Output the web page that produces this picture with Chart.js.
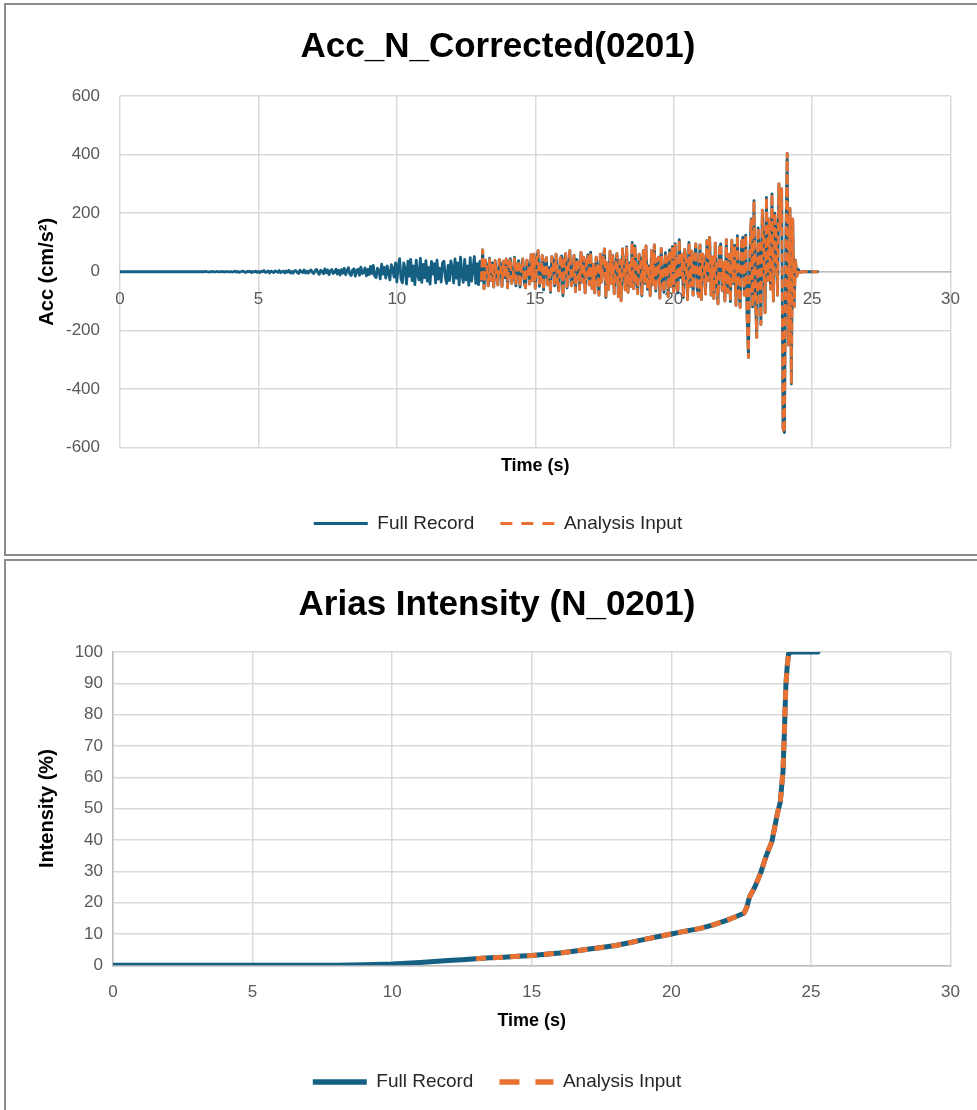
<!DOCTYPE html>
<html>
<head>
<meta charset="utf-8">
<title>Acc_N_Corrected (0201) / Arias Intensity (N_0201)</title>
<script src="https://cdn.jsdelivr.net/npm/chart.js@4.4.1/dist/chart.umd.min.js"></script>
<style>
  html, body { margin: 0; padding: 0; background: #fff; overflow: hidden; }
  body { width: 977px; height: 1110px; position: relative; }
  canvas { position: absolute; left: 0; }
  #accCanvas { top: 0; }
  #ariasCanvas { top: 560px; }
  .frame { position: absolute; left: 4px; width: 1000px; border: 2px solid #8c8c8c; box-sizing: border-box; pointer-events: none; }
  #frame1 { top: 3px; height: 553px; }
  #frame2 { top: 559px; height: 600px; }
</style>
</head>
<body>
<canvas id="accCanvas" width="977" height="556"></canvas>
<canvas id="ariasCanvas" width="977" height="550"></canvas>
<div class="frame" id="frame1"></div>
<div class="frame" id="frame2"></div>

<script>
// Acceleration record + Arias intensity, two stacked Excel-style charts

const seriesNames = ['Full Record', 'Analysis Input'];

// acceleration (cm/s2), one sample every 0.05 s starting at t = 0 (one row = 1 s)
const accStep = 0.05;
const accValues = [
  0, 0, 0, 0, 0, 0, 0, 0, 0, 0, 0, 0, 0, 0, 0, 0, 0, 0, 0, 0,
  0, 0, 0, 0, 0, 0, 0, 0, 0, 0, 0, 0, 0, 0, 0, 0, 0, 0, 0, 0,
  0, 0, 0, 0, 0, 0, 0, 0, 0, 0, 0, 0, 0, 0, 0, 0, 0, 0, 0, 0,
  0, 0, 1, 0, -1, 0, 0, 1, -1, 0, 1, 0, -1, 1, 0, 0, -1, 1, 0, -1,
  1, -1, 0, 2, -1, 1, -2, 0, 1, 2, -1, -2, 1, 0, 2, -3, 1, -1, 2, -2,
  1, -3, 2, 0, 4, -2, -1, 3, -4, 2, 0, -3, 3, 1, -2, 4, -3, 0, 2, -4,
  3, -2, 5, -4, 1, -5, 3, 4, -2, -6, 5, 0, -3, 6, -4, 2, -5, 3, 6, -3,
  -6, 4, 8, -3, -9, 5, 2, -7, 10, -4, 6, -10, 3, 8, -6, -2, 9, -8, 5, -11,
  7, -5, 12, -10, 3, 14, -8, -13, 6, 10, -15, 4, 9, -12, 16, -6, -3, 13, -14, 8,
  -10, 18, -6, 22, -15, -20, 12, 5, -24, 26, -8, 15, -22, 20, -4, -28, 24, 10, -18, 30,
  -35, 20, 45, -25, -38, 30, 10, -42, 36, -15, 42, -30, 20, -44, 40, -10, -28, 46, -36, 25,
  -20, 38, -32, 15, -42, 35, -8, 28, -38, 40, -25, 12, -35, 30, 36, -18, -40, 22, -30, 37,
  15, -38, 44, -22, 30, -45, 50, -10, -36, 42, -28, 20, -46, 48, -32, 10, 52, -40, 28, -44,
  35, -30, 75, -58, 40, 20, -48, 46, -30, 30, -52, 38, -12, -45, 42, 25, -50, 36, -20, 44,
  -55, 30, 45, -40, -15, 50, -48, 20, 38, -52, 10, 44, -35, -55, 40, 18, -42, 58, -30, 60,
  -56, 40, 72, -50, -20, 55, -62, 30, 48, -45, 15, -70, 52, 35, -48, 60, -30, -65, 45, 54,
  -82, 40, 62, -55, 20, 72, -48, -30, 56, -68, 42, 25, -60, 66, -35, 50, -72, 30, 58, -45,
  67, -58, 25, -72, 50, 10, -80, 60, -35, 45, 78, -88, 30, -60, 70, -40, 55, -75, 20, 62,
  -85, 40, -99, 78, 15, -62, 85, -70, 30, -50, 100, -58, 88, -30, -75, 60, 45, -82, 72, -40,
  88, -60, 20, -82, 72, -45, 92, -66, 35, 50, -90, 80, -25, -70, 65, 40, -85, 75, -50, 86,
  -70, 96, -45, -72, 110, -20, 60, -88, 76, 30, -95, 100, -50, 70, -80, 40, 95, -60, -85, 92,
  -95, 60, 40, -76, 106, -30, 117, -80, 50, -92, 98, -40, -110, 80, 95, -65, 30, -100, 110, -70,
  60, -102, 108, -40, 90, -115, 123, -60, -122, 100, 118, -80, 125, -150, -293, 60, 180, -120, 243, -80,
  -224, 150, 60, -180, 210, 100, -140, 254, -30, 180, -60, 266, -100, 200, 120, -80, 300, 150, 283, -535,
  -549, 100, 404, -250, 215, -383, 180, -120, 40, -15, 8, -3, 0, 0, 0, 0, 0, 0, 0, 0,
  0, 0, 0, 0, 0
];
const analysisStart = 13.05; // s

// Arias intensity (%)
const ariasTime = [
  0, 4, 8, 9, 10, 10.5, 11, 11.5, 12, 12.5,
  13, 13.5, 14, 14.5, 15, 15.5, 16, 16.5, 17, 17.5,
  18, 18.5, 19, 19.5, 20, 20.5, 21, 21.5, 22, 22.3,
  22.6, 22.7, 22.8, 23.0, 23.2, 23.4, 23.6, 23.8, 23.9, 24.0,
  24.05, 24.1, 24.15, 24.2, 24.3, 25.25
];
const ariasFull = [
  0, 0, 0.05, 0.15, 0.4, 0.65, 0.9, 1.2, 1.5, 1.8,
  2.1, 2.4, 2.6, 2.85, 3.1, 3.5, 3.9, 4.5, 5.1, 5.7,
  6.3, 7.2, 8.2, 9.1, 10.0, 10.9, 11.7, 12.9, 14.4, 15.5,
  16.6, 18.5, 21.8, 25.2, 29.5, 35.0, 39.5, 48.5, 52.0, 62.0,
  75.0, 89.0, 95.5, 99.5, 100, 100
];
const ariasAnalysisRange = [13.0, 24.3];

// axis ranges [min, max, step]
const timeAxis = [0, 30, 5];
const accAxis = [-600, 600, 200];
const intensityAxis = [0, 100, 10];

const FONT = "'Liberation Sans', Arial, sans-serif";
const BLUE = '#156082';
const ORANGE = '#E97132';
const GRID = '#d9d9d9';
const AXIS_LINE = '#bfbfbf';
const TICK = '#595959';

const accPoints = accValues.map((v, i) => ({ x: Math.round(i * accStep * 100) / 100, y: v }));
const accAnalysis = accPoints.filter(p => p.x >= analysisStart);
const ariasPoints = ariasTime.map((t, i) => ({ x: t, y: ariasFull[i] }));
const ariasAnalysis = ariasPoints.filter(p => p.x >= ariasAnalysisRange[0] && p.x <= ariasAnalysisRange[1]);

function legendLabels(width, dash) {
  return () => [
    { text: seriesNames[0], strokeStyle: BLUE, fillStyle: BLUE, lineWidth: width, lineDash: [],
      lineCap: 'butt', pointStyle: 'line', datasetIndex: 0, hidden: false, fontColor: '#262626' },
    { text: seriesNames[1], strokeStyle: ORANGE, fillStyle: ORANGE, lineWidth: width, lineDash: dash,
      lineCap: 'butt', pointStyle: 'line', datasetIndex: 1, hidden: false, fontColor: '#262626' },
  ];
}

function tickFont() {
  return { family: FONT, size: 17 };
}

function axisTitle(text, size, lineHeight, padding) {
  return { display: true, text, color: '#000', font: { family: FONT, size, weight: 'bold', lineHeight }, padding };
}

// ---- acceleration chart ----
new Chart(document.getElementById('accCanvas'), {
  type: 'line',
  data: {
    datasets: [
      { label: seriesNames[0], data: accPoints, borderColor: BLUE, borderWidth: 2.8, pointRadius: 0,
        borderJoinStyle: 'round', borderCapStyle: 'round', order: 1 },
      { label: seriesNames[1], data: accAnalysis, borderColor: ORANGE, borderWidth: 2.8, pointRadius: 0,
        borderDash: [9, 4], borderJoinStyle: 'round', order: 0 },
    ],
  },
  options: {
    responsive: false,
    animation: false,
    devicePixelRatio: 1,
    layout: { padding: { left: 41, right: 22, top: 0, bottom: 13 } },
    plugins: {
      title: { display: true, text: 'Acc_N_Corrected(0201)', color: '#000',
        font: { family: FONT, size: 35, weight: 'bold', lineHeight: 1.2 }, padding: { top: 26, bottom: 28 } },
      legend: { position: 'bottom',
        labels: { usePointStyle: true, pointStyleWidth: 54, padding: 26, color: '#262626',
          font: { family: FONT, size: 19 }, generateLabels: legendLabels(3, [12, 9]) } },
      tooltip: { enabled: false },
    },
    scales: {
      x: {
        type: 'linear', position: { y: 0 }, min: timeAxis[0], max: timeAxis[1],
        ticks: { stepSize: timeAxis[2], padding: 17, color: TICK, font: tickFont(), maxRotation: 0 },
        grid: { color: GRID, lineWidth: 1.5, drawTicks: false },
        border: { color: AXIS_LINE, width: 1.5 },
      },
      xTitle: {
        type: 'linear', position: 'bottom', min: timeAxis[0], max: timeAxis[1],
        ticks: { display: false },
        grid: { display: false, drawTicks: false },
        border: { display: false },
        title: axisTitle('Time (s)', 18, 1.2, { top: 8.2, bottom: 10.7 }),
      },
      y: {
        type: 'linear', position: 'left', min: accAxis[0], max: accAxis[1],
        ticks: { stepSize: accAxis[2], padding: 20, color: TICK, font: tickFont() },
        grid: { color: GRID, lineWidth: 1.5, drawTicks: false },
        border: { display: false },
        title: axisTitle('Acc (cm/s²)', 20, 1, { top: -4, bottom: 0 }),
        afterFit: (scale) => { scale.width = 79; },
      },
    },
  },
});

// ---- Arias intensity chart ----
new Chart(document.getElementById('ariasCanvas'), {
  type: 'line',
  data: {
    datasets: [
      { label: seriesNames[0], data: ariasPoints, borderColor: BLUE, borderWidth: 5, pointRadius: 0,
        borderJoinStyle: 'round', borderCapStyle: 'round', order: 1 },
      { label: seriesNames[1], data: ariasAnalysis, borderColor: ORANGE, borderWidth: 5, pointRadius: 0,
        borderDash: [10, 7], borderJoinStyle: 'round', order: 0 },
    ],
  },
  options: {
    responsive: false,
    animation: false,
    devicePixelRatio: 1,
    layout: { padding: { left: 41, right: 24, top: 0, bottom: 8.5 } },
    plugins: {
      title: { display: true, text: 'Arias Intensity (N_0201)', color: '#000',
        font: { family: FONT, size: 35, weight: 'bold', lineHeight: 1.2 }, padding: { top: 24, bottom: 26 } },
      legend: { position: 'bottom',
        labels: { usePointStyle: true, pointStyleWidth: 54, padding: 26, color: '#262626',
          font: { family: FONT, size: 19 }, generateLabels: legendLabels(5.5, [20, 16]) } },
      tooltip: { enabled: false },
    },
    scales: {
      x: {
        type: 'linear', position: 'bottom', min: timeAxis[0], max: timeAxis[1],
        ticks: { stepSize: timeAxis[2], padding: 17, color: TICK, font: tickFont(), maxRotation: 0 },
        grid: { color: GRID, lineWidth: 1.5, drawTicks: false },
        border: { color: AXIS_LINE, width: 1.5 },
        title: axisTitle('Time (s)', 18, 1.2, { top: -9.5, bottom: 14.7 }),
      },
      y: {
        type: 'linear', position: 'left', min: intensityAxis[0], max: intensityAxis[1],
        ticks: { stepSize: intensityAxis[2], padding: 10, color: TICK, font: tickFont() },
        grid: { color: GRID, lineWidth: 1.5, drawTicks: false },
        border: { color: AXIS_LINE, width: 1.5 },
        title: axisTitle('Intensity (%)', 20, 1, { top: -4, bottom: 0 }),
        afterFit: (scale) => { scale.width = 72; },
      },
    },
  },
});
</script>
</body>
</html>
